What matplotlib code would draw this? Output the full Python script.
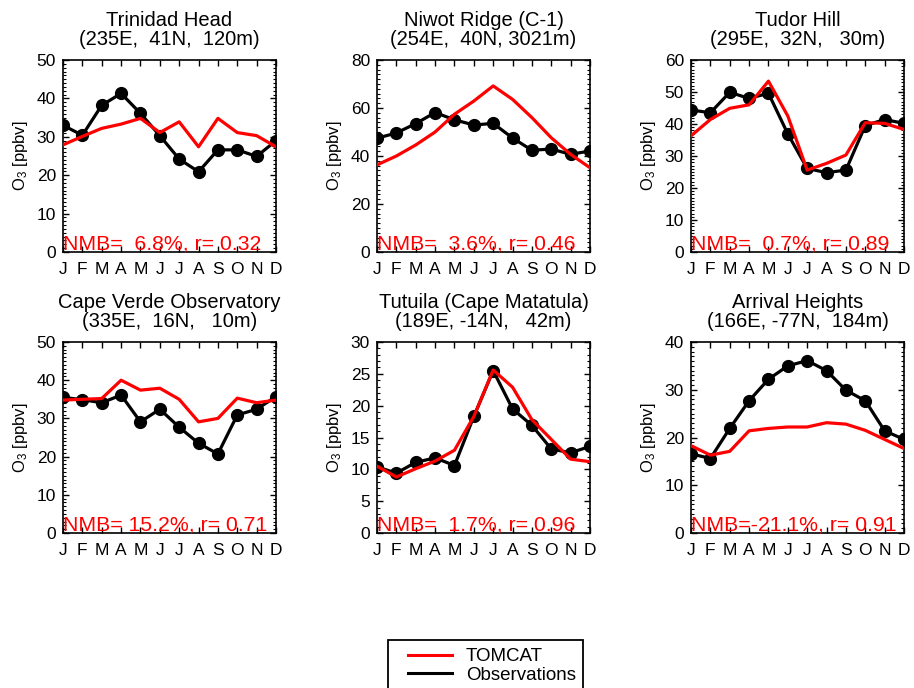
import matplotlib
matplotlib.use("Agg")
import matplotlib.pyplot as plt
from matplotlib.lines import Line2D
from matplotlib.patches import Rectangle
from matplotlib.ticker import MultipleLocator

plt.rcParams['font.family'] = ['Liberation Sans', 'DejaVu Sans']
plt.rcParams['mathtext.fontset'] = 'custom'
plt.rcParams['mathtext.rm'] = 'Liberation Sans'
plt.rcParams['mathtext.it'] = 'Liberation Sans'

months = ['J', 'F', 'M', 'A', 'M', 'J', 'J', 'A', 'S', 'O', 'N', 'D']

titles = [
    "Trinidad Head\n(235E,  41N,  120m)",
    "Niwot Ridge (C-1)\n(254E,  40N, 3021m)",
    "Tudor Hill\n(295E,  32N,   30m)",
    "Cape Verde Observatory\n(335E,  16N,   10m)",
    "Tutuila (Cape Matatula)\n(189E, -14N,   42m)",
    "Arrival Heights\n(166E, -77N,  184m)",
]
stats = [
    "NMB=  6.8%, r= 0.32",
    "NMB=  3.6%, r= 0.46",
    "NMB=  0.7%, r= 0.89",
    "NMB= 15.2%, r= 0.71",
    "NMB=  1.7%, r= 0.96",
    "NMB=-21.1%, r= 0.91",
]
ymax = [50, 80, 60, 50, 30, 40]
ymajor = [10, 20, 10, 10, 5, 10]
yminor = [1, 2, 1, 1, 1, 1]

obs_trinidad = [33.0, 30.4, 38.2, 41.3, 36.1, 30.3, 24.2, 20.9, 26.6, 26.6, 24.9, 29.0]
mod_trinidad = [27.9, 30.1, 32.2, 33.3, 34.8, 31.1, 33.9, 27.4, 34.8, 31.1, 30.3, 27.4]
obs_niwot = [47.4, 49.6, 53.5, 58.1, 55.1, 52.9, 53.6, 47.5, 42.4, 42.9, 40.7, 42.1]
mod_niwot = [36.3, 40.0, 44.6, 50.0, 57.4, 62.9, 69.2, 63.6, 56.0, 47.6, 40.7, 35.1]
obs_tudor = [44.4, 43.5, 49.9, 48.0, 49.6, 36.9, 26.1, 24.8, 25.6, 39.5, 41.4, 40.2]
mod_tudor = [36.3, 41.4, 44.9, 46.0, 53.4, 42.5, 25.6, 27.7, 30.3, 40.4, 40.2, 38.3]
obs_capeverde = [35.5, 34.9, 34.1, 36.1, 29.1, 32.4, 27.7, 23.5, 20.7, 30.9, 32.4, 35.7]
mod_capeverde = [34.8, 35.0, 35.2, 40.0, 37.4, 37.9, 35.0, 29.1, 30.0, 35.3, 34.1, 34.8]
obs_tutuila = [10.4, 9.4, 11.1, 11.8, 10.6, 18.3, 25.5, 19.5, 16.9, 13.2, 12.6, 13.6]
mod_tutuila = [10.5, 8.8, 10.1, 11.3, 13.0, 18.3, 25.6, 22.9, 17.8, 14.7, 11.6, 11.2]
obs_arrival = [16.6, 15.6, 21.9, 27.7, 32.2, 35.0, 36.1, 34.0, 29.9, 27.7, 21.4, 19.6]
mod_arrival = [18.3, 16.3, 17.1, 21.4, 21.9, 22.2, 22.2, 23.1, 22.8, 21.5, 19.6, 17.7]

obs_all = [obs_trinidad, obs_niwot, obs_tudor, obs_capeverde, obs_tutuila, obs_arrival]
mod_all = [mod_trinidad, mod_niwot, mod_tudor, mod_capeverde, mod_tutuila, mod_arrival]

W, H = 914, 688
fig = plt.figure(figsize=(W / 100, H / 100), dpi=100)

lefts = [63, 377, 691]
rows = [(60, 252), (342, 533)]
aw = 213

x = list(range(12))
for i in range(6):
    r, c = divmod(i, 3)
    top, bot = rows[r]
    ax = fig.add_axes([lefts[c] / W, 1 - bot / H, aw / W, (bot - top) / H])
    ax.plot(x, obs_all[i], color='black', lw=2.3, marker='o', ms=8.5, zorder=3)
    ax.plot(x, mod_all[i], color='red', lw=2.3, zorder=4)
    ax.set_xlim(0, 11)
    ax.set_ylim(0, ymax[i])
    ax.set_xticks(x)
    ax.set_xticklabels(months)
    ax.yaxis.set_major_locator(MultipleLocator(ymajor[i]))
    ax.yaxis.set_minor_locator(MultipleLocator(yminor[i]))
    ax.tick_params(axis='both', which='major', direction='in', length=4, width=1,
                   top=True, right=True, labelsize=12.5, pad=5)
    ax.tick_params(axis='x', which='major', pad=7)
    ax.tick_params(axis='y', which='minor', direction='in', length=2, width=0.8,
                   left=True, right=True)
    for s in ax.spines.values():
        s.set_linewidth(1.2)
    ax.set_title(titles[i], fontsize=14.5, linespacing=1.0, pad=11)
    ax.set_ylabel(r'O$_3$ [ppbv]', fontsize=12, labelpad=5)
    ax.text(0.0, 0.012, stats[i], transform=ax.transAxes, color='red',
            fontsize=15.3, ha='left', va='baseline', zorder=5)

# legend with frame extending past figure bottom
fig.patches.append(Rectangle((388 / W, -0.05), 195 / W, 0.05 + (1 - 640 / H),
                             transform=fig.transFigure, fill=False,
                             edgecolor='black', lw=1.3))
handles = [Line2D([], [], color='red', lw=2.2), Line2D([], [], color='black', lw=2.2)]
fig.legend(handles, ['TOMCAT', 'Observations'], loc='upper left',
           bbox_to_anchor=(408 / W, 1 - 648 / H), frameon=False, fontsize=13.5,
           handlelength=2.35, handletextpad=0.75, labelspacing=0.08,
           borderpad=0, borderaxespad=0)

fig.savefig('out.png', dpi=100)
